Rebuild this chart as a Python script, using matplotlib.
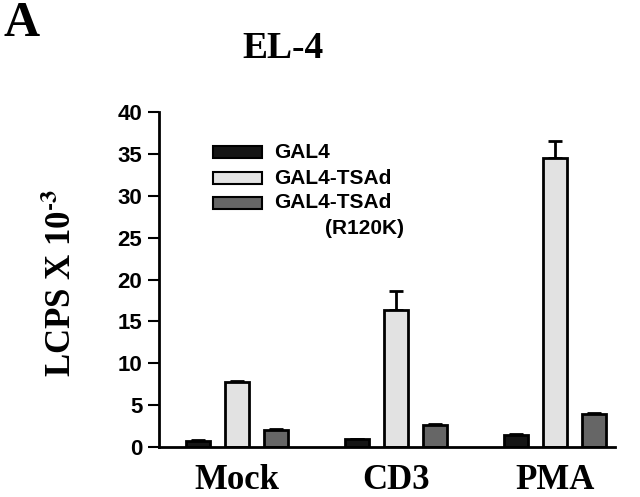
import matplotlib
matplotlib.use('Agg')
import matplotlib.pyplot as plt
from matplotlib.patches import Rectangle

# data (LCPS x 10^-3)
groups = ['Mock', 'CD3', 'PMA']
series = ['GAL4', 'GAL4-TSAd', 'GAL4-TSAd\n(R120K)']
gal4 = [0.75, 0.9, 1.4]
tsad = [7.8, 16.4, 34.5]
r120k = [2.0, 2.6, 3.9]
gal4_err = [0.1, 0.05, 0.15]
tsad_err = [0.05, 2.2, 2.0]
r120k_err = [0.15, 0.15, 0.15]
colors = ['#151515', '#e2e2e2', '#666666']

plt.rcParams['mathtext.fontset'] = 'stix'

fig = plt.figure(figsize=(6.4, 4.97), dpi=100)
ax = fig.add_axes([0.2484, 0.1006, 0.7125, 0.674])

off = 0.245
w = 0.151
xs = list(range(len(groups)))
for k, (vals, errs) in enumerate([(gal4, gal4_err), (tsad, tsad_err), (r120k, r120k_err)]):
    pos = [x + (k - 1) * off for x in xs]
    ax.bar(pos, vals, width=w, color=colors[k], edgecolor='black', linewidth=2, zorder=2)
    ax.errorbar(pos, vals, yerr=[[0] * len(vals), errs], fmt='none', ecolor='black',
                elinewidth=2, capsize=5, capthick=2, zorder=1)

ax.set_xlim(-0.49, 2.377)
ax.set_ylim(0, 40)
ax.set_yticks(range(0, 41, 5))
ax.set_xticks(xs)
ax.set_xticklabels(groups, fontfamily='Liberation Serif', fontweight='bold', fontsize=25)
ax.tick_params(axis='x', length=0, pad=12)
ax.tick_params(axis='y', length=8, width=1.5, direction='out', pad=4)
for t in ax.get_yticklabels():
    t.set_fontfamily('Liberation Sans')
    t.set_fontweight('bold')
    t.set_fontsize(16)
for s in ['top', 'right']:
    ax.spines[s].set_visible(False)
ax.spines['left'].set_linewidth(2)
ax.spines['bottom'].set_linewidth(2)

# legend drawn by hand
leg_y = [152, 178, 203]
for k, yy in enumerate(leg_y):
    fy = 1 - yy / 497
    fig.patches.append(Rectangle((213 / 640, fy - 6 / 497), 49 / 640, 12 / 497,
                                 transform=fig.transFigure, facecolor=colors[k],
                                 edgecolor='black', linewidth=1.5))
    fig.text(274 / 640, fy, series[k].split('\n')[0], fontfamily='Liberation Sans',
             fontweight='bold', fontsize=15, va='center', ha='left')
fig.text(325 / 640, 1 - 228 / 497, '(R120K)', fontfamily='Liberation Sans',
         fontweight='bold', fontsize=15, va='center', ha='left')

fig.text(283 / 640, 1 - 49 / 497, 'EL-4', fontfamily='Liberation Serif',
         fontweight='bold', fontsize=27, ha='center', va='center')
fig.text(4 / 640, 1 - 24 / 497, 'A', fontfamily='Liberation Serif',
         fontweight='bold', fontsize=36, ha='left', va='center')
fig.text(62 / 640, 1 - 283 / 497, 'LCPS X 10$^{\\mathbf{\u2010}\\mathbf{3}}$',
         fontfamily='Liberation Serif', fontweight='bold', fontsize=25,
         rotation=90, ha='center', va='center')

fig.savefig('out.png', dpi=100)
